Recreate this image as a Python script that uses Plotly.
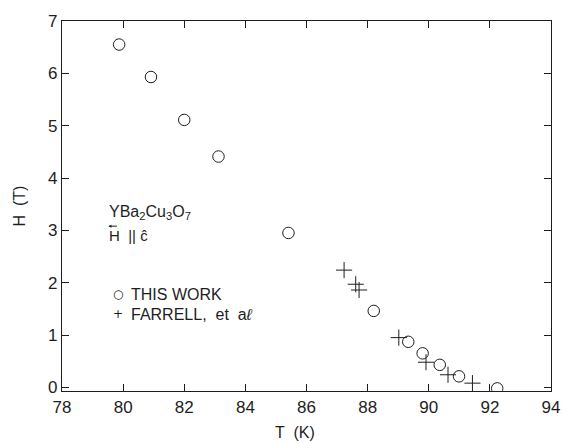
import plotly.graph_objects as go

# This work (open circles)
this_T = [79.87, 80.91, 82.0, 83.12, 85.41, 88.2, 89.33, 89.8, 90.36, 90.99, 92.24]
this_H = [6.55, 5.93, 5.11, 4.41, 2.95, 1.46, 0.87, 0.65, 0.43, 0.21, -0.02]

# Farrell et al (plus signs)
far_T = [87.23, 87.61, 87.72, 89.02, 89.91, 90.63, 91.43]
far_H = [2.24, 1.97, 1.86, 0.95, 0.48, 0.24, 0.08]

x_ticks = [78, 80, 82, 84, 86, 88, 90, 92, 94]
y_ticks = [0, 1, 2, 3, 4, 5, 6, 7]

FONT = "Liberation Sans, Arial, Helvetica, sans-serif"
INK = "#1e1e1e"

fig = go.Figure()
fig.add_trace(go.Scatter(
    x=this_T, y=this_H, mode="markers", name="THIS WORK",
    marker=dict(symbol="circle-open", size=11.5, color=INK, line=dict(width=1)),
))
fig.add_trace(go.Scatter(
    x=far_T, y=far_H, mode="markers", name="FARRELL, et aℓ",
    marker=dict(symbol="cross-thin-open", size=11.5, color=INK, line=dict(width=1)),
))

axis_common = dict(
    showline=True, mirror="ticks", linecolor=INK, linewidth=1.2,
    ticks="inside", ticklen=7, tickwidth=1, tickcolor=INK,
    showgrid=False, zeroline=False,
    tickfont=dict(family=FONT, size=17, color=INK),
)

ann_font = dict(family=FONT, size=16, color=INK)
sym_font = dict(family="DejaVu Sans", size=12, color=INK)

fig.update_layout(
    width=572, height=443,
    margin=dict(l=62, r=14, t=16, b=52),
    paper_bgcolor="white", plot_bgcolor="white",
    font=dict(family=FONT, color=INK),
    showlegend=False,
    xaxis=dict(range=[78, 94], tickvals=x_ticks, **axis_common),
    yaxis=dict(
        range=[-0.07, 7], tickvals=y_ticks,
        title=dict(text="H  (T)", font=dict(family=FONT, size=16, color=INK), standoff=18),
        **axis_common,
    ),
    annotations=[
        # x-axis title
        dict(x=0.476, y=-0.112, xref="paper", yref="paper", xanchor="center", yanchor="middle",
             showarrow=False, text="T  (K)", font=dict(family=FONT, size=16, color=INK)),
        # sample label
        dict(x=79.48, y=3.34, xref="x", yref="y", xanchor="left", showarrow=False,
             text="YBa<sub>2</sub>Cu<sub>3</sub>O<sub>7</sub>", font=ann_font),
        dict(x=79.48, y=2.91, xref="x", yref="y", xanchor="left", showarrow=False,
             text="H  || c\u0302", font=dict(family=FONT, size=15, color=INK)),
        # vector arrow over H
        dict(x=79.52, y=3.08, xref="x", yref="y", text="", showarrow=True,
             ax=10, ay=0, arrowhead=2, arrowsize=0.6, arrowwidth=1, arrowcolor=INK),
        # legend (typeset, as in the original)
        dict(x=79.84, y=1.78, xref="x", yref="y", xanchor="center", showarrow=False,
             text="\u25cb", font=sym_font),
        dict(x=80.18, y=1.78, xref="x", yref="y", xanchor="left", showarrow=False,
             text="THIS WORK", font=ann_font),
        dict(x=79.84, y=1.40, xref="x", yref="y", xanchor="center", showarrow=False,
             text="+", font=sym_font),
        dict(x=80.18, y=1.40, xref="x", yref="y", xanchor="left", showarrow=False,
             text="FARRELL,  et  a<i>\u2113</i>", font=ann_font),
    ],
)

fig.write_html("out.html")
